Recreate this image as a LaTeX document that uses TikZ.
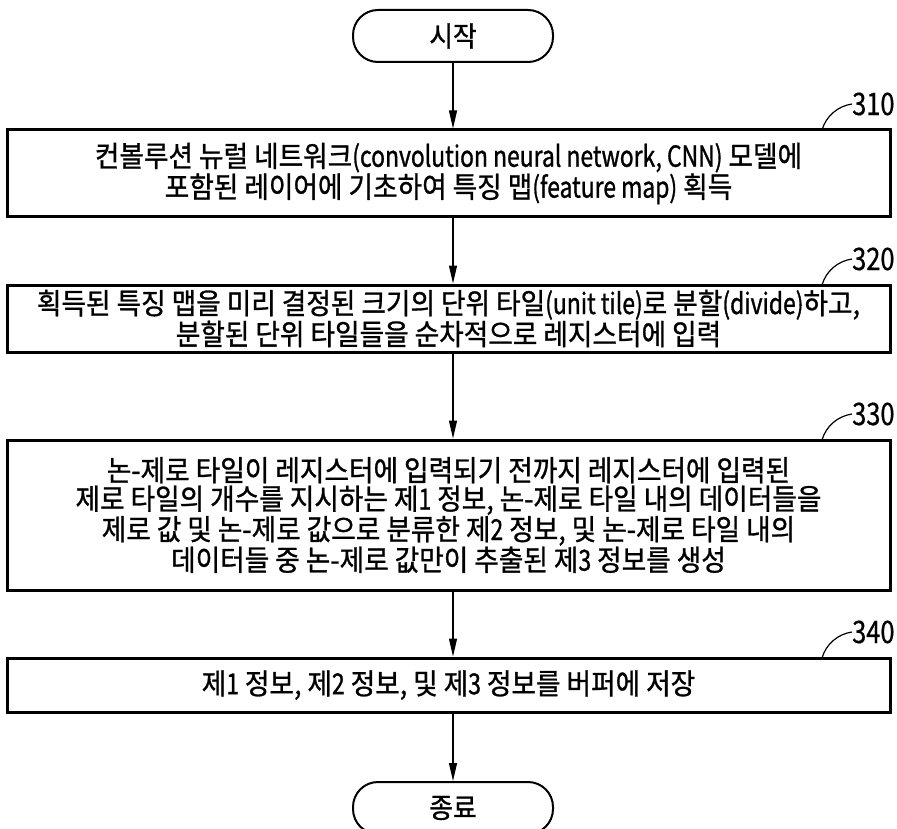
\documentclass[tikz,border=0pt]{standalone}
\usepackage{fontspec}
\newfontfamily\kr[FakeStretch=0.92,FakeBold=1]{Noto Sans CJK KR}
\newfontfamily\latf[FakeStretch=0.79,FakeBold=1]{Noto Sans CJK KR}
\newfontfamily\krl[FakeStretch=0.82,FakeBold=0.6]{Noto Sans CJK KR}
\newcommand\lat[1]{{\latf #1}}
\usetikzlibrary{arrows.meta}
\begin{document}
\begin{tikzpicture}[x=1pt,y=-1pt,
  term/.style={draw, line width=2pt, rounded corners=25pt, minimum width=200pt, minimum height=52pt, inner sep=0pt, font=\kr\fontsize{28}{28.5}\selectfont},
  stepbox/.style={draw, line width=3pt, minimum width=883pt, inner sep=0pt, align=center, font=\kr\fontsize{29}{28.5}\selectfont},
  arr/.style={line width=1.2pt, -{Stealth[length=18pt, width=8pt, inset=0pt]}},
  lead/.style={line width=1.2pt},
  lbl/.style={anchor=west, inner sep=0pt, font=\krl\fontsize{31}{31}\selectfont}]
\useasboundingbox (0,0) rectangle (897,829);
\node[term] (start) at (453,36) {시작};
\node[stepbox, minimum height=87pt] (b310) at (448.5,173.5) {컨볼루션 뉴럴 네트워크\lat{(convolution neural network, CNN)} 모델에\\포함된 레이어에 기초하여 특징 맵\lat{(feature map)} 획득};
\node[stepbox, minimum height=67pt] (b320) at (448.5,318.5) {획득된 특징 맵을 미리 결정된 크기의 단위 타일\lat{(unit tile)}로 분할\lat{(divide)}하고,\\분할된 단위 타일들을 순차적으로 레지스터에 입력};
\node[stepbox, minimum height=150pt] (b330) at (448.5,515) {논-제로 타일이 레지스터에 입력되기 전까지 레지스터에 입력된\\제로 타일의 개수를 지시하는 제\lat{1} 정보, 논-제로 타일 내의 데이터들을\\제로 값 및 논-제로 값으로 분류한 제\lat{2} 정보, 및 논-제로 타일 내의\\데이터들 중 논-제로 값만이 추출된 제\lat{3} 정보를 생성};
\node[stepbox, minimum height=54pt] (b340) at (448.5,685) {제\lat{1} 정보, 제\lat{2} 정보, 및 제\lat{3} 정보를 버퍼에 저장};
\node[term] (end) at (453,808) {종료};

\draw[arr] (start.south) -- (start.south |- b310.north);
\draw[arr] (start.south |- b310.south) -- (start.south |- b320.north);
\draw[arr] (start.south |- b320.south) -- (start.south |- b330.north);
\draw[arr] (start.south |- b330.south) -- (start.south |- b340.north);
\draw[arr] (start.south |- b340.south) -- (end.north);

\foreach \n/\y in {310/130, 320/285, 330/440, 340/658}{
  \coordinate (s\n) at (822,\y);
  \coordinate (e\n) at (852,\y-26);
  \draw[lead] (s\n) .. controls (826,\y-14) and (838,\y-24) .. (e\n);
  \node[lbl] (l\n) at (e\n) {\n};
}
\end{tikzpicture}
\end{document}
